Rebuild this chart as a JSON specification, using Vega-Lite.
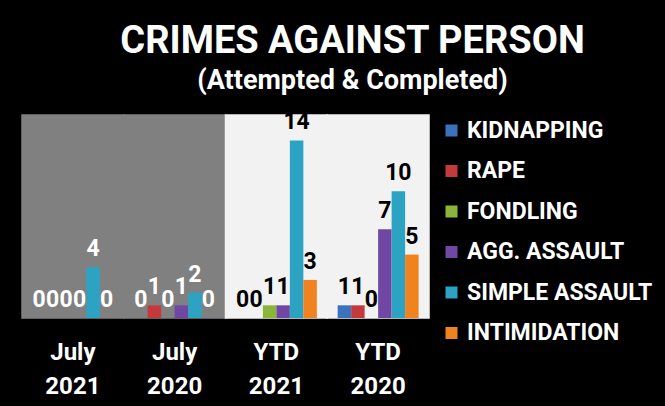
{
  "$schema": "https://vega.github.io/schema/vega-lite/v6.json",
  "autosize": {"type": "none"},
  "width": 407,
  "height": 203,
  "padding": {"left": 22, "top": 115, "right": 236, "bottom": 88},
  "background": "#000000",
  "title": {
    "text": "CRIMES AGAINST PERSON",
    "subtitle": "(Attempted & Completed)",
    "anchor": "middle",
    "frame": "group",
    "dx": 127,
    "offset": 17,
    "font": "Roboto",
    "fontWeight": "bold",
    "fontSize": 38,
    "color": "#ffffff",
    "subtitleFont": "Roboto",
    "subtitleFontWeight": "bold",
    "subtitleFontSize": 27,
    "subtitleColor": "#ffffff",
    "subtitlePadding": 7
  },
  "config": {
    "view": {"stroke": null},
    "legend": {
      "labelFont": "Roboto",
      "labelFontWeight": "bold",
      "labelFontSize": 23,
      "labelColor": "#ffffff",
      "symbolType": "square",
      "symbolSize": 144,
      "symbolStrokeWidth": 0,
      "labelOffset": 4,
      "rowPadding": 16.5,
      "offset": 7,
      "padding": 4,
      "labelLimit": 300
    }
  },
  "datasets": {
    "crimes": [
      {"period": "July 2021", "category": "KIDNAPPING", "value": 0},
      {"period": "July 2021", "category": "RAPE", "value": 0},
      {"period": "July 2021", "category": "FONDLING", "value": 0},
      {"period": "July 2021", "category": "AGG. ASSAULT", "value": 0},
      {"period": "July 2021", "category": "SIMPLE ASSAULT", "value": 4},
      {"period": "July 2021", "category": "INTIMIDATION", "value": 0},
      {"period": "July 2020", "category": "KIDNAPPING", "value": 0},
      {"period": "July 2020", "category": "RAPE", "value": 1},
      {"period": "July 2020", "category": "FONDLING", "value": 0},
      {"period": "July 2020", "category": "AGG. ASSAULT", "value": 1},
      {"period": "July 2020", "category": "SIMPLE ASSAULT", "value": 2},
      {"period": "July 2020", "category": "INTIMIDATION", "value": 0},
      {"period": "YTD 2021", "category": "KIDNAPPING", "value": 0},
      {"period": "YTD 2021", "category": "RAPE", "value": 0},
      {"period": "YTD 2021", "category": "FONDLING", "value": 1},
      {"period": "YTD 2021", "category": "AGG. ASSAULT", "value": 1},
      {"period": "YTD 2021", "category": "SIMPLE ASSAULT", "value": 14},
      {"period": "YTD 2021", "category": "INTIMIDATION", "value": 3},
      {"period": "YTD 2020", "category": "KIDNAPPING", "value": 1},
      {"period": "YTD 2020", "category": "RAPE", "value": 1},
      {"period": "YTD 2020", "category": "FONDLING", "value": 0},
      {"period": "YTD 2020", "category": "AGG. ASSAULT", "value": 7},
      {"period": "YTD 2020", "category": "SIMPLE ASSAULT", "value": 10},
      {"period": "YTD 2020", "category": "INTIMIDATION", "value": 5}
    ],
    "panels": [
      {"period": "July 2021"},
      {"period": "July 2020"},
      {"period": "YTD 2021"},
      {"period": "YTD 2020"}
    ]
  },
  "encoding": {
    "x": {
      "field": "period",
      "type": "nominal",
      "sort": ["July 2021", "July 2020", "YTD 2021", "YTD 2020"],
      "scale": {"paddingInner": 0, "paddingOuter": 0},
      "axis": {
        "title": null,
        "labelAngle": 0,
        "domain": false,
        "ticks": false,
        "labelColor": "#ffffff",
        "labelFont": "Roboto",
        "labelFontWeight": "bold",
        "labelFontSize": 24,
        "labelLineHeight": 34,
        "labelPadding": 22,
        "labelExpr": "split(datum.label, ' ')"
      }
    }
  },
  "layer": [
    {
      "data": {"name": "panels"},
      "mark": {"type": "rect", "strokeWidth": 1.5},
      "encoding": {
        "y": {"datum": 16, "type": "quantitative", "scale": {"domain": [0, 16]}, "axis": null},
        "y2": {"datum": 0},
        "color": {
          "condition": {"test": "indexof(datum.period, 'July') == 0", "value": "#808080"},
          "value": "#f2f2f2"
        },
        "stroke": {
          "condition": {"test": "indexof(datum.period, 'July') == 0", "value": "#808080"},
          "value": "#f2f2f2"
        }
      }
    },
    {
      "data": {"name": "crimes"},
      "mark": {"type": "bar"},
      "encoding": {
        "xOffset": {
          "field": "category",
          "type": "nominal",
          "sort": ["KIDNAPPING", "RAPE", "FONDLING", "AGG. ASSAULT", "SIMPLE ASSAULT", "INTIMIDATION"],
          "scale": {"paddingInner": 0, "paddingOuter": 0.77}
        },
        "y": {"field": "value", "type": "quantitative", "scale": {"domain": [0, 16]}, "axis": null},
        "color": {
          "field": "category",
          "type": "nominal",
          "sort": ["KIDNAPPING", "RAPE", "FONDLING", "AGG. ASSAULT", "SIMPLE ASSAULT", "INTIMIDATION"],
          "scale": {
            "domain": ["KIDNAPPING", "RAPE", "FONDLING", "AGG. ASSAULT", "SIMPLE ASSAULT", "INTIMIDATION"],
            "range": ["#3a72bd", "#c4393b", "#8ab43a", "#7048a3", "#2da3c4", "#f0821f"]
          },
          "legend": {"title": null}
        }
      }
    },
    {
      "data": {"name": "crimes"},
      "mark": {"type": "text", "baseline": "bottom", "dy": -6, "font": "Roboto", "fontWeight": "bold", "fontSize": 23},
      "encoding": {
        "xOffset": {
          "field": "category",
          "type": "nominal",
          "sort": ["KIDNAPPING", "RAPE", "FONDLING", "AGG. ASSAULT", "SIMPLE ASSAULT", "INTIMIDATION"],
          "scale": {"paddingInner": 0, "paddingOuter": 0.77}
        },
        "y": {"field": "value", "type": "quantitative", "scale": {"domain": [0, 16]}, "axis": null},
        "text": {"field": "value", "type": "quantitative"},
        "color": {
          "condition": {"test": "indexof(datum.period, 'July') == 0", "value": "#ffffff"},
          "value": "#000000"
        }
      }
    }
  ]
}
